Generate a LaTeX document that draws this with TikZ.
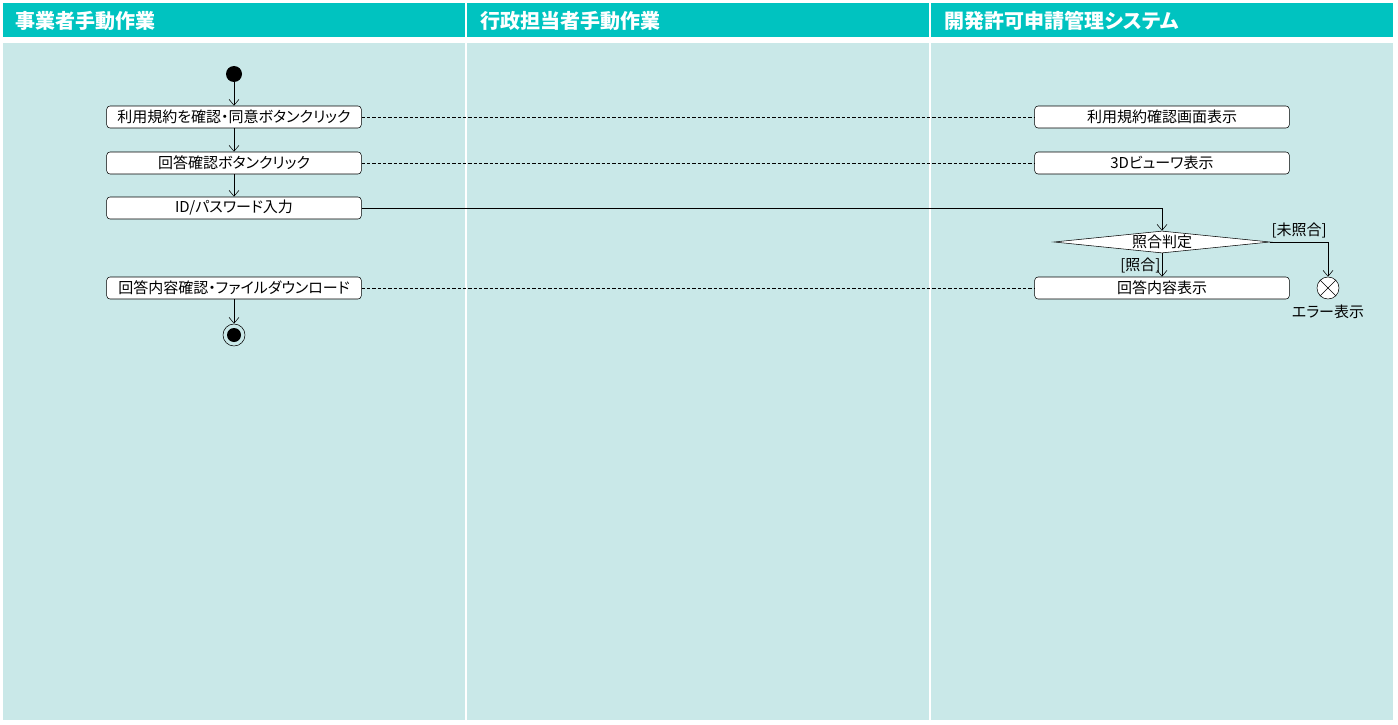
\documentclass[tikz,border=0pt]{standalone}
\usepackage{fontspec}
\setmainfont{Noto Sans CJK JP}[RawFeature=+palt]
\usetikzlibrary{arrows.meta, shapes.geometric}
\definecolor{laneHead}{RGB}{0,195,192}
\definecolor{laneBody}{RGB}{201,232,232}

\begin{document}
\begin{tikzpicture}[x=0.75pt, y=-0.75pt,
    head/.style={anchor=west, text=white, font=\fontsize{15}{17}\selectfont\bfseries},
    act/.style={draw, fill=white, rounded corners=2.5pt, minimum width=191pt,
      minimum height=16.5pt, inner sep=0pt, font=\fontsize{11.25}{13}\selectfont},
    decision/.style={draw, fill=white, diamond, aspect=9, minimum width=162pt,
      minimum height=16.5pt, inner sep=0pt, font=\fontsize{11.25}{13}\selectfont},
    guard/.style={inner sep=1pt, font=\fontsize{11.25}{13}\selectfont},
    flow/.style={-{Straight Barb[length=4.5pt, width=7.5pt]}},
    link/.style={dash pattern=on 2.5pt off 1.5pt}]
  \useasboundingbox[fill=white] (0,0) rectangle (1398,724);
  % Lanes
  \fill[laneHead] (3,3) rectangle (465,37);
  \fill[laneHead] (467,3) rectangle (929,37);
  \fill[laneHead] (931,3) rectangle (1393,37);
  \fill[laneBody] (3,43) rectangle (465,720);
  \fill[laneBody] (467,43) rectangle (929,720);
  \fill[laneBody] (931,43) rectangle (1393,720);
  \node[head] (lane1) at (11,21) {事業者手動作業};
  \node[head] (lane2) at (476,21) {行政担当者手動作業};
  \node[head] (lane3) at (940,21) {開発許可申請管理システム};
  % Applicant
  \node[circle, fill=black, minimum size=12pt, inner sep=0pt] (begin) at (234,74) {};
  \node[act] (agree) at (234,117) {利用規約を確認・同意ボタンクリック};
  \node[act] (reply) at (234,163) {回答確認ボタンクリック};
  \node[act] (login) at (234,208) {ID/パスワード入力};
  \node[act] (result) at (234,288) {回答内容確認・ファイルダウンロード};
  \node[circle, draw, minimum size=16.5pt, inner sep=0pt] (finish) at (234,335) {};
  \fill (finish) circle (5.25pt);
  % System
  \node[act] (terms) at (1162,117) {利用規約確認画面表示};
  \node[act] (viewer) at (1162,163) {3Dビューワ表示};
  \node[decision] (check) at (1162,242) {照合判定};
  \node[act] (answer) at (1162,288) {回答内容表示};
  \node[circle, draw, fill=white, minimum size=16.5pt, inner sep=0pt] (err) at (1328,288) {};
  \draw (err.north east) -- (err.south west);
  \draw (err.north west) -- (err.south east);
  \node[guard, below=3pt] (errlabel) at (err.south) {エラー表示};
  % Flows
  \draw[flow] (begin) -- (agree);
  \draw[flow] (agree) -- (reply);
  \draw[flow] (reply) -- (login);
  \draw[flow] (result) -- (finish);
  \draw[flow] (login.east) -| (check.north);
  \draw[flow] (check.south) -- node[guard, left] {[照合]} (answer.north);
  \draw[flow] (check.east) -| node[guard, pos=0.25, above, yshift=2pt] {[未照合]} (err.north);
  \draw[link] (agree) -- (terms);
  \draw[link] (reply) -- (viewer);
  \draw[link] (result) -- (answer);
\end{tikzpicture}
\end{document}
